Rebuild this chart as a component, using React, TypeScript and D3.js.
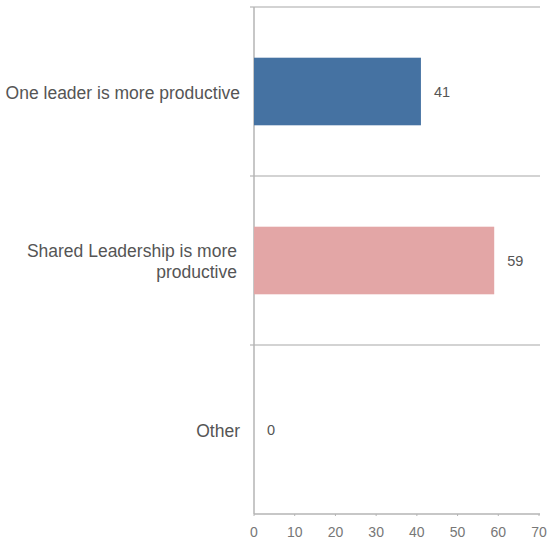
import React from "react";
import * as d3 from "d3";

const categories: string[][] = [
  ["One leader is more productive"],
  ["Shared Leadership is more", "productive"],
  ["Other"],
];
const values: number[] = [41, 59, 0];
const colors: string[] = ["#4572a2", "#e3a6a6", "#cccccc"];
const ticks: number[] = [0, 10, 20, 30, 40, 50, 60, 70];

export default function App() {
  const W = 550, H = 542;
  const x0 = 254, x1 = 539, yTop = 7, yBot = 514;
  const x = d3.scaleLinear().domain([0, 70]).range([x0, x1]);
  const y = d3.scaleBand<number>().domain(values.map((_, i) => i)).range([yTop, yBot]).paddingInner(0).paddingOuter(0);
  const bw = y.bandwidth();
  const barH = bw * 0.4;
  const font = "'Liberation Sans', Arial, Helvetica, sans-serif";
  return (
    <svg width={W} height={H} style={{ position: "absolute", left: 0, top: 0 }}>
      <rect x={0} y={0} width={W} height={H} fill="#fff" />
      {values.map((_, i) => (
        <line key={"g" + i} x1={250} x2={x1 + 1} y1={y(i)!} y2={y(i)!} stroke="#c4c4c4" strokeWidth={1.5} />
      ))}
      <line x1={x0} x2={x1 + 1} y1={yBot} y2={yBot} stroke="#b4b4b4" strokeWidth={1.5} />
      <line x1={x0} x2={x0} y1={yTop} y2={yBot} stroke="#b4b4b4" strokeWidth={1.5} />
      {ticks.map((t) => (
        <g key={"t" + t}>
          <line x1={x(t)} x2={x(t)} y1={yBot} y2={yBot + 2} stroke="#b4b4b4" strokeWidth={1} />
          <text x={x(t)} y={536.5} textAnchor="middle" fontSize={14} fill="#777" fontFamily={font}>{t}</text>
        </g>
      ))}
      {values.map((v, i) => {
        const cy = y(i)! + bw / 2;
        return (
          <g key={"b" + i}>
            {v > 0 && (
              <rect x={x(0)} y={cy - barH / 2} width={x(v) - x(0)} height={barH} fill={colors[i]} />
            )}
            <text x={x(v) + 13} y={cy + 5} fontSize={14.5} fill="#555" fontFamily={font}>{v}</text>
            <text textAnchor="end" fontSize={17.5} fill="#555" fontFamily={font}>
              {categories[i].map((line, j) => (
                <tspan key={j} x={i === 1 ? 237 : 240} y={cy + 7 + (j - (categories[i].length - 1) / 2) * 21}>{line}</tspan>
              ))}
            </text>
          </g>
        );
      })}
    </svg>
  );
}
